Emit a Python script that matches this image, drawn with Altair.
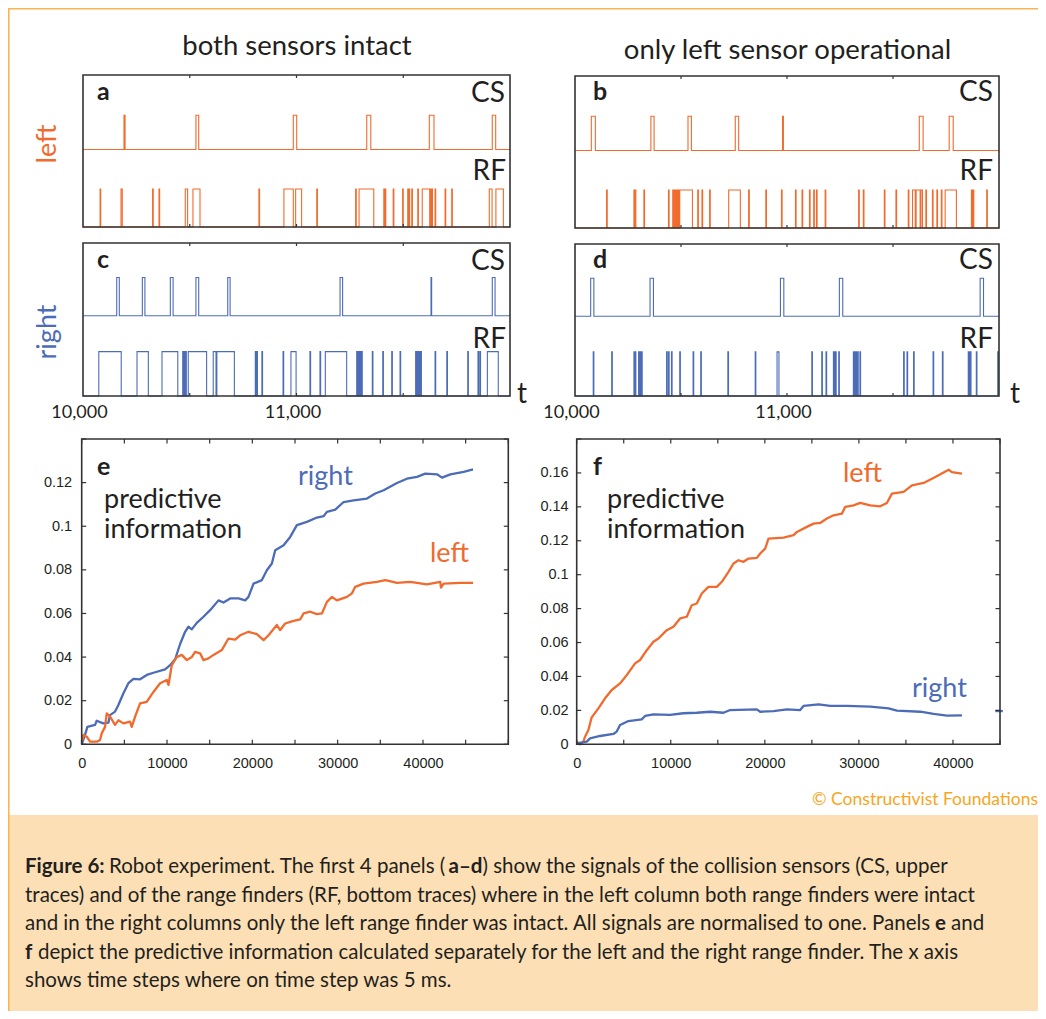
import altair as alt
import pandas as pd

# ---------------------------------------------------------------- data
T_START, T_END = 10000, 12000

# collision sensor (CS) and range finder (RF) pulses: (onset, offset) time steps
a_cs = [(10192, 10197), (10529, 10542), (10985, 11001), (11329, 11348), (11622, 11644), (11917, 11933)]
a_rf = [(10080, 10083), (10178, 10184), (10326, 10329), (10356, 10359), (10479, 10490), (10515, 10548),
        (10824, 10827), (10941, 10985), (10996, 11024), (11095, 11098), (11277, 11280), (11293, 11362),
        (11409, 11412), (11415, 11418), (11453, 11456), (11497, 11500), (11521, 11524), (11527, 11530),
        (11540, 11543), (11568, 11571), (11589, 11624), (11628, 11631), (11634, 11637), (11649, 11652),
        (11696, 11699), (11727, 11730), (11903, 11916), (11934, 11969)]
c_cs = [(10158, 10170), (10278, 10290), (10409, 10422), (10529, 10542), (10678, 10689), (11204, 11216),
        (11630, 11633), (11917, 11930)]
c_rf = [(10074, 10179), (10253, 10306), (10370, 10444), (10467, 10470), (10474, 10477), (10481, 10484),
        (10493, 10579), (10610, 10623), (10627, 10709), (10807, 10810), (10814, 10817), (10838, 10841),
        (10937, 10940), (10974, 10998), (11063, 11066), (11110, 11113), (11135, 11235), (11282, 11285),
        (11290, 11293), (11297, 11300), (11305, 11308), (11355, 11358), (11404, 11407), (11446, 11449),
        (11485, 11488), (11558, 11561), (11566, 11569), (11574, 11577), (11582, 11585), (11649, 11652),
        (11704, 11707), (11802, 11805), (11850, 11853), (11859, 11862), (11894, 11945)]
b_cs = [(10077, 10096), (10358, 10373), (10533, 10549), (10756, 10772), (10979, 10983), (11624, 11642),
        (11765, 11784)]
b_rf = [(10149, 10152), (10278, 10281), (10284, 10287), (10325, 10328), (10441, 10444), (10461, 10464),
        (10469, 10472), (10476, 10479), (10482, 10485), (10488, 10491), (10494, 10554), (10579, 10582),
        (10599, 10602), (10635, 10638), (10725, 10780), (10819, 10822), (10900, 10903), (10974, 10977),
        (11040, 11043), (11071, 11074), (11106, 11109), (11126, 11129), (11139, 11142), (11180, 11183),
        (11338, 11341), (11360, 11363), (11459, 11462), (11514, 11517), (11572, 11575), (11592, 11605),
        (11609, 11628), (11632, 11639), (11655, 11658), (11686, 11689), (11707, 11710), (11728, 11731),
        (11746, 11799), (11870, 11873), (11878, 11881), (11942, 11945)]
d_cs = [(10074, 10089), (10354, 10370), (10969, 10985), (11247, 11263), (11911, 11927)]
d_rf = [(10086, 10089), (10173, 10176), (10278, 10281), (10284, 10287), (10300, 10303), (10305, 10308),
        (10310, 10313), (10314, 10317), (10432, 10435), (10441, 10444), (10455, 10458), (10494, 10497),
        (10557, 10560), (10593, 10596), (10721, 10724), (10850, 10853), (10953, 10962), (11117, 11120),
        (11164, 11167), (11184, 11187), (11219, 11222), (11224, 11227), (11229, 11232), (11244, 11247),
        (11313, 11316), (11318, 11321), (11323, 11326), (11328, 11331), (11333, 11336), (11344, 11347),
        (11550, 11553), (11566, 11569), (11597, 11600), (11689, 11692), (11733, 11736), (11855, 11858),
        (11860, 11863), (11865, 11868), (11893, 11896), (11994, 11997)]

SENSOR_TICKS = [10500, 11000, 11500]
SENSOR_LABELS = [10000, 11000]

# predictive information, panel e (both sensors intact)
e_right_x = [0, 390, 665, 1564, 1760, 2540, 3130, 3320, 3910, 4300, 4890, 5474, 6060, 6840, 7625, 8410,
             9775, 10360, 10950, 11535, 12120, 12510, 12900, 13490, 14270, 15050, 16030, 16620, 17400,
             18380, 19160, 19550, 20140, 21120, 21700, 22290, 22680, 23660, 24440, 25220, 26390, 27570,
             28350, 28740, 29720, 30700, 31870, 33430, 34410, 35390, 36950, 38120, 39300, 40270, 41640,
             42230, 43210, 44770, 45870]
e_right_y = [0, 0.0043, 0.008, 0.0089, 0.0108, 0.0096, 0.0099, 0.0134, 0.015, 0.018, 0.0234, 0.028, 0.030,
             0.0298, 0.0318, 0.0328, 0.0344, 0.0363, 0.039, 0.046, 0.0516, 0.0539, 0.0527, 0.0557, 0.0585,
             0.0615, 0.066, 0.065, 0.0669, 0.0669, 0.066, 0.0676, 0.0737, 0.0753, 0.0798, 0.0829, 0.089,
             0.0913, 0.0951, 0.1005, 0.102, 0.104, 0.1046, 0.1066, 0.1076, 0.1111, 0.1119, 0.1127, 0.115,
             0.1165, 0.1198, 0.1218, 0.1226, 0.1241, 0.1238, 0.1223, 0.1238, 0.1249, 0.1261]
e_left_x = [0, 195, 587, 978, 1760, 2150, 2346, 2737, 2933, 3320, 3910, 4300, 4890, 5670, 5865, 6260, 6843,
            7625, 8410, 9190, 9970, 10170, 10560, 11140, 11730, 12320, 12900, 13290, 13880, 14270, 14860,
            15445, 16420, 17200, 17990, 18570, 19550, 20530, 21310, 21900, 22870, 23260, 23850, 24830,
            25610, 26000, 26780, 27570, 28150, 28740, 29330, 29910, 31090, 31670, 32060, 33040, 34600,
            35590, 36950, 38510, 40470, 42030, 42110, 42420, 44380, 45870]
e_left_y = [0.0012, 0.0043, 0.0035, 0.0012, 0.0012, 0.002, 0.005, 0.008, 0.0142, 0.0127, 0.0089, 0.011,
            0.0096, 0.0104, 0.008, 0.0127, 0.0188, 0.0195, 0.024, 0.028, 0.0295, 0.0272, 0.0363, 0.040,
            0.041, 0.0386, 0.040, 0.0424, 0.0417, 0.0386, 0.0394, 0.041, 0.0432, 0.0485, 0.048, 0.050,
            0.0516, 0.0505, 0.0478, 0.050, 0.0547, 0.0524, 0.0554, 0.0566, 0.0573, 0.060, 0.0608, 0.0597,
            0.060, 0.0653, 0.0676, 0.066, 0.0676, 0.0692, 0.0722, 0.0737, 0.0745, 0.0753, 0.074, 0.0745,
            0.0733, 0.0745, 0.0719, 0.0737, 0.074, 0.074]

# predictive information, panel f (only left sensor operational)
f_left_x = [0, 355, 709, 887, 1241, 1596, 2305, 3014, 3723, 4610, 5319, 6206, 6738, 7447, 8156, 8688, 9574,
            10284, 10993, 11702, 12234, 12766, 13298, 14007, 14894, 15426, 16135, 16667, 17199, 17730,
            18262, 19149, 19504, 20035, 20390, 21986, 23050, 23404, 24468, 25177, 25887, 26596, 27305,
            28192, 28546, 29433, 30142, 31206, 32270, 32979, 33511, 34752, 35638, 36879, 38121, 39539,
            39894, 40957]
f_left_y = [0.0016, 0, 0.0016, 0.0045, 0.0084, 0.0159, 0.0212, 0.0271, 0.032, 0.0359, 0.0408, 0.0477,
            0.0497, 0.0555, 0.0605, 0.0624, 0.0673, 0.0693, 0.0742, 0.0752, 0.082, 0.083, 0.0889, 0.0928,
            0.0928, 0.0958, 0.1017, 0.1066, 0.1085, 0.1076, 0.1095, 0.1099, 0.1125, 0.1154, 0.1213,
            0.1219, 0.1233, 0.1252, 0.1282, 0.1301, 0.1305, 0.1331, 0.135, 0.136, 0.14, 0.1409, 0.1423,
            0.1409, 0.1403, 0.1423, 0.1478, 0.1488, 0.1527, 0.1541, 0.1576, 0.1619, 0.1605, 0.1596]
f_right_x = [0, 1064, 1418, 2482, 3901, 4255, 4610, 5496, 6915, 7270, 8156, 9929, 11348, 12766, 14184,
             15603, 16312, 19149, 19504, 20922, 22340, 23759, 24113, 25709, 26950, 28723, 31206, 33156,
             34043, 36525, 37943, 39362, 40957]
f_right_y = [0.0006, 0.0016, 0.0035, 0.0049, 0.0061, 0.0075, 0.0114, 0.0137, 0.0147, 0.0167, 0.0177,
             0.0173, 0.0183, 0.0186, 0.0192, 0.0186, 0.0202, 0.0206, 0.0192, 0.0196, 0.0206, 0.0202,
             0.0226, 0.0236, 0.0226, 0.0226, 0.0222, 0.0212, 0.0198, 0.0192, 0.0179, 0.0169, 0.0171]
f_tail_x = [44500, 45300]
f_tail_y = [0.0196, 0.0196]

E_XDOM, E_YDOM = [0, 50000], [0, 0.14]
F_XDOM, F_YDOM = [0, 45000], [0, 0.18]
E_XTICKS = [0, 5000, 10000, 15000, 20000, 25000, 30000, 35000, 40000, 45000, 50000]
E_YTICKS = [0, 0.02, 0.04, 0.06, 0.08, 0.1, 0.12, 0.14]
F_XTICKS = [0, 5000, 10000, 15000, 20000, 25000, 30000, 35000, 40000, 45000]
F_YTICKS = [0, 0.02, 0.04, 0.06, 0.08, 0.1, 0.12, 0.14, 0.16, 0.18]
XLABELS = [0, 10000, 20000, 30000, 40000]
E_YLABELS = [0, 0.02, 0.04, 0.06, 0.08, 0.1, 0.12]
F_YLABELS = [0, 0.02, 0.04, 0.06, 0.08, 0.1, 0.12, 0.14, 0.16]

# caption: (text, bold, x start in chart px)
CAPTION = [
    [("Figure 6:", True, 17), ("Robot experiment. The first 4 panels (", False, 101), ("a–d", True, 440.5),
     (") show the signals of the collision sensors (CS, upper", False, 474.5)],
    [("traces) and of the range finders (RF, bottom traces) where in the left column both range finders were intact", False, 17)],
    [("and in the right columns only the left range finder was intact. All signals are normalised to one. Panels", False, 17),
     ("e", True, 927), ("and", False, 943)],
    [("f", True, 17), ("depict the predictive information calculated separately for the left and the right range finder. The x axis", False, 30)],
    [("shows time steps where on time step was 5 ms.", False, 17)],
]

# ---------------------------------------------------------------- layout / style
OFF = 8
W, H = 1030, 1003
ORANGE = "#F06B2D"
BLUE = "#4D6CB7"
TEXT = "#231F20"
FRAME = "#333333"
PEACH = "#FDDFB5"
BORDER = "#F9B552"
COPY = "#F6A623"
FONT = "Lato"
NUMFONT = "Liberation Sans"
CAP_SIZE = 20.5


def px(v):
    return v - OFF


SENS = {
    "a": dict(x0=px(83), x1=px(510), y0=px(75), y1=px(227), csb=0.51, cst=0.735, rft=0.25, color=ORANGE),
    "b": dict(x0=px(575), x1=px(999), y0=px(76), y1=px(228), csb=0.51, cst=0.735, rft=0.25, color=ORANGE),
    "c": dict(x0=px(83), x1=px(510), y0=px(243), y1=px(396), csb=0.525, cst=0.775, rft=0.29, color=BLUE),
    "d": dict(x0=px(575), x1=px(999), y0=px(244), y1=px(396), csb=0.525, cst=0.775, rft=0.29, color=BLUE),
}
INFO = {
    "e": dict(x0=px(81.7), x1=px(508.3), y0=px(439), y1=px(744.3)),
    "f": dict(x0=px(576.7), x1=px(1000), y0=px(439), y1=px(744.3)),
}


def sensor_layers(key, cs, rf, labels):
    P = SENS[key]
    rows = []
    for name, pulses, base, top in [("CS", cs, P["csb"], P["cst"]), ("RF", rf, 0.0, P["rft"])]:
        seq = [(T_START, base)]
        for s, e in pulses:
            seq += [(s, base), (s, top), (e, top), (e, base)]
        seq.append((T_END, base))
        rows += [dict(t=t, v=v, trace=name, i=k) for k, (t, v) in enumerate(seq)]
    df = pd.DataFrame(rows)
    xs = alt.Scale(domain=[T_START, T_END], range=[P["x0"], P["x1"]], nice=False, zero=False)
    ys = alt.Scale(domain=[0, 1], range=[P["y1"], P["y0"]], nice=False, zero=False)
    if labels:
        xaxis = alt.Axis(orient="bottom", offset=P["y1"] - H, position=-4, values=SENSOR_LABELS,
                         format=",.0f", domain=False, ticks=False, grid=False, labelFont=FONT,
                         labelFontSize=18, labelColor=TEXT, labelPadding=7.5, labelFlush=False,
                         labelOverlap=False, title=None)
    else:
        xaxis = None
    line = alt.Chart(df).mark_line(color=P["color"], strokeWidth=1.1, strokeJoin="miter").encode(
        x=alt.X("t:Q", scale=xs, axis=xaxis),
        y=alt.Y("v:Q", scale=ys, axis=None),
        detail="trace:N",
        order="i:Q",
    )
    tdf = pd.DataFrame([dict(t=t, ya=ya, yb=yb) for t in SENSOR_TICKS
                        for ya, yb in [(P["y0"], P["y0"] + 3), (P["y1"], P["y1"] - 3)]])
    ticks = alt.Chart(tdf).mark_rule(color=FRAME, strokeWidth=1.2).encode(
        x=alt.X("t:Q", scale=xs, axis=None),
        y=alt.Y("ya:Q", scale=None, axis=None),
        y2="yb:Q",
    )
    return [line, ticks]


def info_layers(key, series, xdom, ydom, xticks, yticks, ylabels, ypad):
    P = INFO[key]
    rows = []
    for name, xv, yv in series:
        rows += [dict(x=x, y=y, s=name, i=k) for k, (x, y) in enumerate(zip(xv, yv))]
    df = pd.DataFrame(rows)
    xs = alt.Scale(domain=xdom, range=[P["x0"], P["x1"]], nice=False, zero=False)
    ys = alt.Scale(domain=ydom, range=[P["y1"], P["y0"]], nice=False, zero=False)
    xaxis = alt.Axis(orient="bottom", offset=P["y1"] - H, values=XLABELS, format="d", domain=False,
                     ticks=False, grid=False, labelFont=NUMFONT, labelFontSize=14.5, labelColor=TEXT,
                     labelPadding=12, labelFlush=False, labelOverlap=False, title=None)
    yaxis = alt.Axis(orient="left", offset=-P["x0"], values=ylabels, format="~g", domain=False,
                     ticks=False, grid=False, labelFont=NUMFONT, labelFontSize=14.5, labelColor=TEXT,
                     labelPadding=ypad, labelFlush=False, labelOverlap=False, title=None)
    line = alt.Chart(df).mark_line(strokeWidth=2.3, strokeJoin="round").encode(
        x=alt.X("x:Q", scale=xs, axis=xaxis),
        y=alt.Y("y:Q", scale=ys, axis=yaxis),
        color=alt.Color("s:N", scale=alt.Scale(domain=["left", "right", "tail"], range=[ORANGE, BLUE, BLUE]),
                        legend=None),
        order="i:Q",
    )
    L = 4.5
    xt = pd.DataFrame([dict(t=t, ya=ya, yb=yb) for t in xticks
                       for ya, yb in [(P["y0"], P["y0"] + L), (P["y1"], P["y1"] - L)]])
    yt = pd.DataFrame([dict(v=v, xa=xa, xb=xb) for v in yticks
                       for xa, xb in [(P["x0"], P["x0"] + L), (P["x1"], P["x1"] - L)]])
    xtick = alt.Chart(xt).mark_rule(color=FRAME, strokeWidth=1.2).encode(
        x=alt.X("t:Q", scale=xs, axis=None), y=alt.Y("ya:Q", scale=None, axis=None), y2="yb:Q")
    ytick = alt.Chart(yt).mark_rule(color=FRAME, strokeWidth=1.2).encode(
        y=alt.Y("v:Q", scale=ys, axis=None), x=alt.X("xa:Q", scale=None, axis=None), x2="xb:Q")
    return [line, xtick, ytick]


one = pd.DataFrame({"k": [0]})
decor = [
    alt.Chart(one).mark_rect(color=PEACH).encode(
        x=alt.value(0), x2=alt.value(W), y=alt.value(px(815)), y2=alt.value(H)),
    alt.Chart(one).mark_rule(color=BORDER, strokeWidth=1.6).encode(
        x=alt.value(0.8), y=alt.value(0), y2=alt.value(H)),
    alt.Chart(one).mark_rule(color=BORDER, strokeWidth=1.6).encode(
        x=alt.value(0), x2=alt.value(W), y=alt.value(0.8)),
]

frames_df = pd.DataFrame([dict(x0=p["x0"], x1=p["x1"], y0=p["y0"], y1=p["y1"])
                          for p in list(SENS.values()) + list(INFO.values())])
frames = alt.Chart(frames_df).mark_rect(fillOpacity=0, stroke=FRAME, strokeWidth=1.6).encode(
    x=alt.X("x0:Q", scale=None, axis=None), x2="x1:Q",
    y=alt.Y("y0:Q", scale=None, axis=None), y2="y1:Q",
)


def text_layer(rows, align, weight, font=FONT):
    df = pd.DataFrame(rows, columns=["text", "x", "y", "size", "color", "ang"])
    return alt.Chart(df).mark_text(align=align, baseline="alphabetic", font=font, fontWeight=weight).encode(
        x=alt.X("x:Q", scale=None, axis=None),
        y=alt.Y("y:Q", scale=None, axis=None),
        text="text:N",
        size=alt.Size("size:Q", scale=None, legend=None),
        color=alt.Color("color:N", scale=None, legend=None),
        angle=alt.Angle("ang:Q", scale=None),
    )


center_rows = [
    ("both sensors intact", 289, 47, 27.5, TEXT, 0),
    ("only left sensor operational", 779.5, 51, 27.5, TEXT, 0),
    ("left", 48, 136, 27, ORANGE, 270),
    ("right", 48, 324, 27, BLUE, 270),
    ("t", 514, 395, 28, TEXT, 0),
    ("t", 1007, 395, 28, TEXT, 0),
]
left_rows = [
    ("predictive", 96, 500, 27, TEXT, 0),
    ("information", 96, 530, 27, TEXT, 0),
    ("right", 290, 477, 27, BLUE, 0),
    ("left", 422, 554, 27, ORANGE, 0),
    ("predictive", 599, 500, 27, TEXT, 0),
    ("information", 599, 530, 27, TEXT, 0),
    ("left", 835, 474, 27, ORANGE, 0),
    ("right", 904, 689, 27, BLUE, 0),
]
right_rows = [
    ("CS", 497, 94, 28, TEXT, 0), ("RF", 498, 172, 28, TEXT, 0),
    ("CS", 985, 93, 28, TEXT, 0), ("RF", 985, 172, 28, TEXT, 0),
    ("CS", 497, 262, 28, TEXT, 0), ("RF", 498, 340, 28, TEXT, 0),
    ("CS", 985, 261, 28, TEXT, 0), ("RF", 985, 340, 28, TEXT, 0),
    ("© Constructivist Foundations", 1030, 797, 17.5, COPY, 0),
]
bold_rows = [
    ("a", 89, 92, 25, TEXT, 0), ("b", 585, 92, 25, TEXT, 0),
    ("c", 89, 260, 25, TEXT, 0), ("d", 585, 260, 25, TEXT, 0),
    ("e", 89, 467, 25, TEXT, 0), ("f", 585, 467, 25, TEXT, 0),
]
LINE_Y = [865, 893.5, 922, 950.5, 979]
for ly, segs in zip(LINE_Y, CAPTION):
    for txt, bold, x in segs:
        (bold_rows if bold else left_rows).append((txt, x, ly, CAP_SIZE, TEXT, 0))

layers = decor
layers += sensor_layers("a", a_cs, a_rf, False)
layers += sensor_layers("b", b_cs, b_rf, False)
layers += sensor_layers("c", c_cs, c_rf, True)
layers += sensor_layers("d", d_cs, d_rf, True)
layers += info_layers("e", [("right", e_right_x, e_right_y), ("left", e_left_x, e_left_y)],
                      E_XDOM, E_YDOM, E_XTICKS, E_YTICKS, E_YLABELS, 10)
layers += info_layers("f", [("left", f_left_x, f_left_y), ("right", f_right_x, f_right_y),
                            ("tail", f_tail_x, f_tail_y)],
                      F_XDOM, F_YDOM, F_XTICKS, F_YTICKS, F_YLABELS, 8.5)
layers += [frames]
layers += [text_layer(center_rows, "center", "normal"), text_layer(left_rows, "left", "normal"),
           text_layer(right_rows, "right", "normal"), text_layer(bold_rows, "left", "bold")]

chart = alt.layer(*layers).resolve_scale(
    x="independent", y="independent", color="independent", size="independent", angle="independent"
).properties(
    width=W, height=H, autosize=alt.AutoSizeParams(type="none"), padding=0, background="white"
).configure_view(stroke=None)

chart.save("out.html", embed_options={"renderer": "svg", "actions": False})
